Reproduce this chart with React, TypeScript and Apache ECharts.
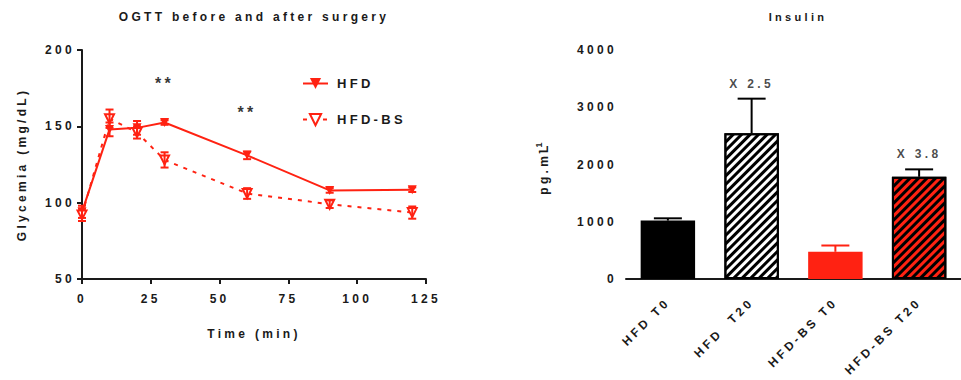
import React, { useEffect, useRef } from "react";
import * as echarts from "echarts";

// ---- Data ----
const times = [0, 10, 20, 30, 60, 90, 120];
const hfdMean = [94, 148, 149, 152.5, 131, 108, 108.5];
const hfdSem = [4, 4.5, 4.5, 1.5, 2.5, 1.5, 1.5];
const bsMean = [92, 155, 146, 128, 106, 99, 93.5];
const bsSem = [4, 6, 4, 5, 3.5, 2.5, 4];
const starX = [30, 60];
const starY = [178, 159];
const starText = ["**", "**"];

const barCats = ["HFD T0", "HFD  T20", "HFD-BS T0", "HFD-BS T20"];
const barValues = [1020, 2545, 475, 1785];
const barSem = [40, 605, 110, 130];
const foldText = ["", "X 2.5", "", "X 3.8"];

const RED = "#ff2212";
const INK = "#1a1a1a";
const FONT = "'Liberation Sans', Arial, sans-serif";

export default function App() {
  const ref = useRef<HTMLDivElement>(null);
  useEffect(() => {
    document.body.style.margin = "0";
    const chart = echarts.init(ref.current!, null, { renderer: "svg" });

    const txt = { fontFamily: FONT, fontWeight: "bold" as const, fontSize: 12, color: INK };

    const errRender = (capHalf: number, colors: string[] | string, both: boolean) =>
      (params: any, api: any) => {
        const x = api.value(0);
        const lo = api.value(1);
        const hi = api.value(2);
        const a = api.coord([x, lo]);
        const b = api.coord([x, hi]);
        const stroke = Array.isArray(colors) ? colors[params.dataIndex] : colors;
        const st = { stroke, lineWidth: 2 };
        const children: any[] = [
          { type: "line", shape: { x1: a[0], y1: a[1], x2: b[0], y2: b[1] }, style: st },
          { type: "line", shape: { x1: b[0] - capHalf, y1: b[1], x2: b[0] + capHalf, y2: b[1] }, style: st },
        ];
        if (both) {
          children.push({ type: "line", shape: { x1: a[0] - capHalf, y1: a[1], x2: a[0] + capHalf, y2: a[1] }, style: st });
        }
        return { type: "group", children };
      };

    const decal = () => ({
      symbol: "rect",
      symbolSize: 1,
      dashArrayX: [1, 0],
      dashArrayY: [2.8, 2.8],
      rotation: -Math.PI / 4,
      color: "#000",
    });

    const barStyles = [
      { color: "#000", borderColor: "#000", borderWidth: 2 },
      { color: "#fff", borderColor: "#000", borderWidth: 2, decal: decal() },
      { color: RED, borderColor: RED, borderWidth: 0 },
      { color: RED, borderColor: "#000", borderWidth: 2, decal: decal() },
    ];
    const barErrColors = ["#000", "#000", RED, "#000"];

    const axisCommon = {
      axisLine: { lineStyle: { color: INK, width: 2 } },
      axisTick: { lineStyle: { color: INK, width: 2 }, length: 5 },
      splitLine: { show: false },
    };

    chart.setOption({
      animation: false,
      backgroundColor: "#fff",
      textStyle: { fontFamily: FONT },
      graphic: [
        { type: "text", x: 254, y: 17, style: { text: "OGTT before and after surgery", textAlign: "center", textVerticalAlign: "middle", font: `bold 12px ${FONT}`, fill: INK } },
        { type: "text", x: 798, y: 17, style: { text: "Insulin", textAlign: "center", textVerticalAlign: "middle", font: `bold 11px ${FONT}`, fill: INK } },
      ],
      legend: {
        left: 297,
        top: 72,
        orient: "vertical",
        itemWidth: 25,
        itemHeight: 14,
        itemGap: 23,
        data: ["HFD", "HFD-BS"],
        textStyle: { ...txt, fontSize: 13, padding: [0, 0, 0, 4] },
      },
      grid: [
        { left: 82, top: 50, width: 344, height: 229 },
        { left: 626, top: 50, width: 344, height: 229 },
      ],
      xAxis: [
        {
          type: "value", gridIndex: 0, min: 0, max: 125, interval: 25,
          name: "Time (min)", nameLocation: "middle", nameGap: 49, nameTextStyle: txt,
          axisLabel: { ...txt, margin: 14 },
          ...axisCommon,
        },
        {
          type: "category", gridIndex: 1, data: barCats,
          axisLabel: { ...txt, rotate: 45, interval: 0, margin: 21 },
          axisTick: { alignWithLabel: true, lineStyle: { color: INK, width: 2 }, length: 5 },
          axisLine: { lineStyle: { color: INK, width: 2 } },
        },
      ],
      yAxis: [
        {
          type: "value", gridIndex: 0, min: 50, max: 200, interval: 50,
          name: "Glycemia (mg/dL)", nameLocation: "middle", nameGap: 54, nameTextStyle: txt,
          axisLabel: { ...txt, margin: 7 },
          ...axisCommon,
        },
        {
          type: "value", gridIndex: 1, min: 0, max: 4000, interval: 1000,
          name: "{a|pg.mL}{b|-1}", nameLocation: "middle", nameGap: 76,
          nameTextStyle: {
            ...txt,
            rich: {
              a: { ...txt, lineHeight: 16, verticalAlign: "bottom" },
              b: { ...txt, fontSize: 9, lineHeight: 9, verticalAlign: "top" },
            },
          },
          axisLabel: { ...txt, margin: 9, formatter: (v: number) => String(v) },
          ...axisCommon,
        },
      ],
      series: [
        {
          name: "HFD", type: "line", xAxisIndex: 0, yAxisIndex: 0,
          data: times.map((t, i) => [t, hfdMean[i]]),
          symbol: "triangle", symbolRotate: 180, symbolSize: 9,
          lineStyle: { color: RED, width: 2 },
          itemStyle: { color: RED },
          z: 3,
        },
        {
          name: "HFD-BS", type: "line", xAxisIndex: 0, yAxisIndex: 0,
          data: times.map((t, i) => [t, bsMean[i]]),
          symbol: "triangle", symbolRotate: 180, symbolSize: 9,
          lineStyle: { color: RED, width: 2, type: [4, 6] },
          itemStyle: { color: "#fff", borderColor: RED, borderWidth: 2 },
          z: 3,
        },
        {
          type: "custom", xAxisIndex: 0, yAxisIndex: 0,
          data: times.map((t, i) => [t, hfdMean[i] - hfdSem[i], hfdMean[i] + hfdSem[i]]),
          renderItem: errRender(4, RED, true),
          z: 4,
        },
        {
          type: "custom", xAxisIndex: 0, yAxisIndex: 0,
          data: times.map((t, i) => [t, bsMean[i] - bsSem[i], bsMean[i] + bsSem[i]]),
          renderItem: errRender(4, RED, true),
          z: 4,
        },
        {
          type: "scatter", xAxisIndex: 0, yAxisIndex: 0, symbolSize: 0,
          data: starX.map((x, i) => [x, starY[i]]),
          label: { show: true, position: "inside", formatter: (p: any) => starText[p.dataIndex], ...txt, fontSize: 16, color: "#000" },
          silent: true,
        },
        {
          type: "bar", xAxisIndex: 1, yAxisIndex: 1, barWidth: "65%",
          data: barValues.map((v, i) => ({ value: v, itemStyle: barStyles[i] })),
          z: 2,
        },
        {
          type: "custom", xAxisIndex: 1, yAxisIndex: 1,
          data: barValues.map((v, i) => [i, v, v + barSem[i]]),
          renderItem: errRender(14, barErrColors, false),
          z: 1,
        },
        {
          type: "scatter", xAxisIndex: 1, yAxisIndex: 1, symbolSize: 0,
          data: barValues.map((v, i) => [i, v + barSem[i]]).filter((_, i) => foldText[i] !== ""),
          label: {
            show: true, position: "top", distance: 9,
            formatter: (p: any) => foldText.filter((s) => s !== "")[p.dataIndex], ...txt,
          },
          silent: true,
        },
      ],
    });
    return () => chart.dispose();
  }, []);

  return (
    <>
      <style>{`#chart text { letter-spacing: 3.3px; }`}</style>
      <div id="chart" ref={ref} style={{ width: 961, height: 380 }} />
    </>
  );
}
